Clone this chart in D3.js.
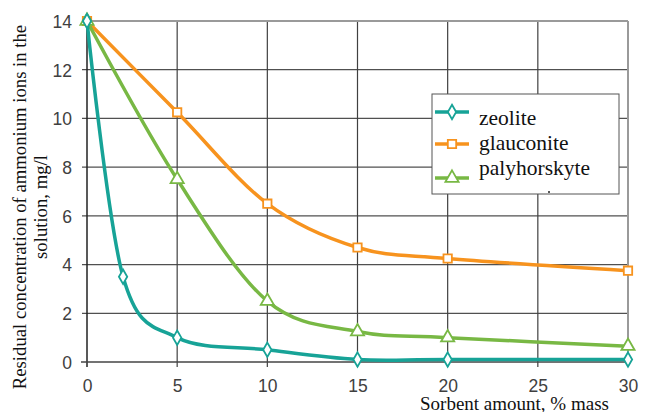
<!DOCTYPE html>
<html>
<head>
<meta charset="utf-8">
<script src="https://cdn.jsdelivr.net/npm/d3@7"></script>
<style>
  body { margin: 0; background: #fff; }
  svg { display: block; }
  .serif { font-family: "Liberation Serif", "DejaVu Serif", "Times New Roman", serif; }
  .sans { font-family: "Liberation Sans", Arial, sans-serif; }
</style>
</head>
<body>
<div id="chart"></div>
<script>
// data
const amounts = [0, 2, 5, 10, 15, 20, 30];
const zeolite = [14, 3.5, 1.0, 0.5, 0.1, 0.1, 0.1];
const glauconiteX = [0, 5, 10, 15, 20, 30];
const glauconite = [14, 10.25, 6.5, 4.7, 4.25, 3.75];
const palyhorskyteX = [0, 5, 10, 15, 20, 30];
const palyhorskyte = [14, 7.5, 2.5, 1.25, 1.0, 0.65];
const xTicks = [0, 5, 10, 15, 20, 25, 30];
const yTicks = [0, 2, 4, 6, 8, 10, 12, 14];
const seriesNames = ["zeolite", "glauconite", "palyhorskyte"];

const W = 646, H = 412;
const margin = {top: 21, right: 18, bottom: 50, left: 87};
const width = W - margin.left - margin.right,
    height = H - margin.top - margin.bottom;

const svg = d3.select("#chart").append("svg")
    .attr("width", W)
    .attr("height", H);

const g = svg.append("g")
    .attr("transform", `translate(${margin.left},${margin.top})`);

const x = d3.scaleLinear().domain([0, 30]).range([0, width]);
const y = d3.scaleLinear().domain([0, 14]).range([height, 0]);

// grid
g.append("g").selectAll("line")
    .data(yTicks.filter(d => d > 0 && d < 14))
    .enter().append("line")
    .attr("x1", -5).attr("x2", width)
    .attr("y1", d => y(d)).attr("y2", d => y(d))
    .attr("stroke", "#505050").attr("stroke-width", 1.2);

g.append("g").selectAll("line")
    .data(xTicks.filter(d => d > 0 && d < 30))
    .enter().append("line")
    .attr("x1", d => x(d)).attr("x2", d => x(d))
    .attr("y1", 0).attr("y2", height + 5)
    .attr("stroke", "#404040").attr("stroke-width", 1.2);

// top / right border
g.append("line").attr("x1", -5).attr("x2", width).attr("y1", 0).attr("y2", 0)
    .attr("stroke", "#9a9a9a").attr("stroke-width", 2);
g.append("line").attr("x1", width).attr("x2", width).attr("y1", 0).attr("y2", height + 5)
    .attr("stroke", "#9a9a9a").attr("stroke-width", 2);

// axes
const xAxis = d3.axisBottom(x).tickValues(xTicks).tickSize(0).tickPadding(18);
const yAxis = d3.axisLeft(y).tickValues(yTicks).tickSize(0).tickPadding(15);

g.append("g").attr("transform", `translate(0,${height})`).call(xAxis)
    .call(a => a.select(".domain").remove())
    .attr("font-family", null)
    .selectAll("text")
    .attr("class", "sans")
    .attr("font-size", "17.5px")
    .attr("fill", "#404040");

g.append("g").call(yAxis)
    .call(a => a.select(".domain").remove())
    .attr("font-family", null)
    .selectAll("text")
    .attr("class", "sans")
    .attr("font-size", "17.5px")
    .attr("fill", "#404040")
    .attr("dy", "0.36em");

g.append("line").attr("x1", 0).attr("x2", 0).attr("y1", 0).attr("y2", height + 5)
    .attr("stroke", "#222").attr("stroke-width", 1.5);
g.append("line").attr("x1", -6).attr("x2", width).attr("y1", height).attr("y2", height)
    .attr("stroke", "#444").attr("stroke-width", 1.5);

// axis titles
const yTitle = svg.append("text")
    .attr("class", "serif")
    .attr("transform", "translate(0,207) rotate(-90)")
    .attr("text-anchor", "middle")
    .attr("font-size", "18.7px")
    .attr("fill", "#111");
yTitle.append("tspan").attr("x", 0).attr("y", 26)
    .text("Residual concentration of ammonium ions in the");
yTitle.append("tspan").attr("x", 0).attr("y", 47)
    .text("solution, mg/l");

svg.append("text")
    .attr("class", "serif")
    .attr("x", 420).attr("y", 410)
    .attr("font-size", "19px")
    .attr("fill", "#111")
    .text("Sorbent amount, % mass");

// series
const colors = ["#17a397", "#f7931e", "#78b844"];
const series = [
    {name: seriesNames[0], xs: amounts, ys: zeolite, color: colors[0], symbol: d3.symbolDiamond, size: 60},
    {name: seriesNames[1], xs: glauconiteX, ys: glauconite, color: colors[1], symbol: d3.symbolSquare, size: 70},
    {name: seriesNames[2], xs: palyhorskyteX, ys: palyhorskyte, color: colors[2], symbol: d3.symbolTriangle, size: 75}
];

const line = d3.line()
    .x(d => x(d[0]))
    .y(d => y(d[1]))
    .curve(d3.curveCardinal.tension(0));

// draw orange, green, then teal on top
[series[1], series[2], series[0]].forEach(s => {
    const pts = s.xs.map((v, i) => [v, s.ys[i]]);
    g.append("path")
        .datum(pts)
        .attr("fill", "none")
        .attr("stroke", s.color)
        .attr("stroke-width", 3.5)
        .attr("d", line);

    g.selectAll(null)
        .data(pts)
        .enter().append("path")
        .attr("transform", d => `translate(${x(d[0])},${y(d[1])})`)
        .attr("d", d3.symbol().type(s.symbol).size(s.size))
        .attr("fill", "#fff")
        .attr("stroke", s.color)
        .attr("stroke-width", 1.8);
});

// legend
const legend = svg.append("g").attr("transform", "translate(432,94)");
legend.append("rect")
    .attr("width", 187).attr("height", 100)
    .attr("fill", "#fff")
    .attr("stroke", "#555").attr("stroke-width", 1);

const symY = [18, 50, 84];
const txtY = [31, 56, 81];
series.forEach((s, i) => {
    legend.append("line")
        .attr("x1", 3).attr("x2", 37)
        .attr("y1", symY[i]).attr("y2", symY[i])
        .attr("stroke", s.color).attr("stroke-width", 3.5);
    legend.append("path")
        .attr("transform", `translate(20,${symY[i]})`)
        .attr("d", d3.symbol().type(s.symbol).size(s.size))
        .attr("fill", "#fff")
        .attr("stroke", s.color)
        .attr("stroke-width", 1.8);
    legend.append("text")
        .attr("class", "serif")
        .attr("x", 47).attr("y", txtY[i])
        .attr("font-size", "21.5px")
        .attr("fill", "#111")
        .text(s.name);
});
legend.append("circle").attr("cx", 117).attr("cy", 98).attr("r", 1).attr("fill", "#222");
</script>
</body>
</html>
